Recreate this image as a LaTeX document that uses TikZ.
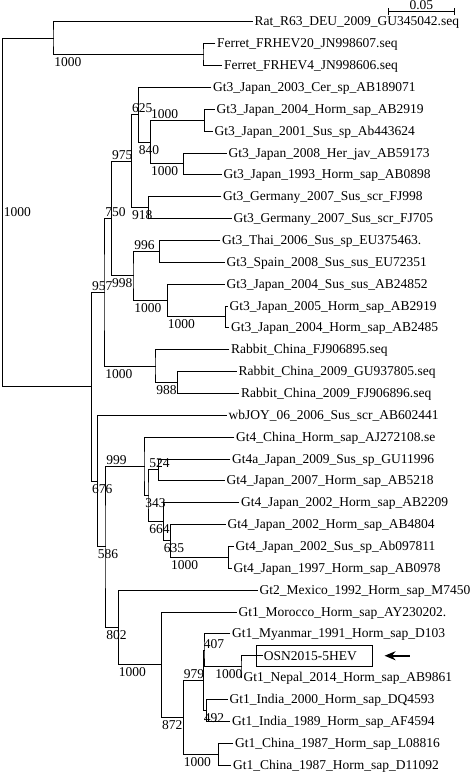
\documentclass[tikz,border=0pt]{standalone}
\usepackage{fontspec}
\setmainfont{Liberation Serif}
\usetikzlibrary{arrows.meta}

\begin{document}
\begin{tikzpicture}[x=1bp, y=-21.86bp, line width=1bp,
    every node/.style={font=\fontsize{13.5bp}{16bp}\selectfont},
    leaf/.style={anchor=west, inner xsep=1.2bp, inner ysep=0pt, text height=9.5bp, text depth=1.5bp},
    osnbox/.style={anchor=west, draw, line width=0.9bp, inner xsep=7.5bp, text width=100.7bp, align=left, minimum height=21bp},
    bsup/.style={anchor=south west, inner xsep=0pt, inner ysep=1.5bp},
    bsdown/.style={anchor=north west, inner xsep=0pt, inner ysep=2.5bp},
    bsmid/.style={anchor=west, inner sep=0.8bp}]
\useasboundingbox (0,0) rectangle (472,35.41);

% leaves
\node[leaf] (rat) at (253,1) {Rat\_R63\_DEU\_2009\_GU345042.seq};
\node[leaf] (fer20) at (215.5,2) {Ferret\_FRHEV20\_JN998607.seq};
\node[leaf] (fer4) at (222.5,3) {Ferret\_FRHEV4\_JN998606.seq};
\node[leaf] (jp03cer) at (211.5,4) {Gt3\_Japan\_2003\_Cer\_sp\_AB189071};
\node[leaf] (jp04a) at (215,5) {Gt3\_Japan\_2004\_Horm\_sap\_AB2919};
\node[leaf] (jp01sus) at (213,6) {Gt3\_Japan\_2001\_Sus\_sp\_Ab443624};
\node[leaf] (jp08her) at (227,7) {Gt3\_Japan\_2008\_Her\_jav\_AB59173};
\node[leaf] (jp93) at (222,8) {Gt3\_Japan\_1993\_Horm\_sap\_AB0898};
\node[leaf] (ger998) at (221.5,9) {Gt3\_Germany\_2007\_Sus\_scr\_FJ998};
\node[leaf] (ger705) at (232,10) {Gt3\_Germany\_2007\_Sus\_scr\_FJ705};
\node[leaf] (thai) at (220.5,11) {Gt3\_Thai\_2006\_Sus\_sp\_EU375463.};
\node[leaf] (spain) at (225,12) {Gt3\_Spain\_2008\_Sus\_sus\_EU72351};
\node[leaf] (jp04sus) at (225,13) {Gt3\_Japan\_2004\_Sus\_sus\_AB24852};
\node[leaf] (jp05) at (228,14) {Gt3\_Japan\_2005\_Horm\_sap\_AB2919};
\node[leaf] (jp04b) at (229.5,15) {Gt3\_Japan\_2004\_Horm\_sap\_AB2485};
\node[leaf] (rab895) at (229.5,16) {Rabbit\_China\_FJ906895.seq};
\node[leaf] (rab805) at (237,17) {Rabbit\_China\_2009\_GU937805.seq};
\node[leaf] (rab896) at (239.5,18) {Rabbit\_China\_2009\_FJ906896.seq};
\node[leaf] (wbjoy) at (227,19) {wbJOY\_06\_2006\_Sus\_scr\_AB602441};
\node[leaf] (gt4cn) at (234.5,20) {Gt4\_China\_Horm\_sap\_AJ272108.se};
\node[leaf] (gt4a) at (230.5,21) {Gt4a\_Japan\_2009\_Sus\_sp\_GU11996};
\node[leaf] (jp07) at (225,22) {Gt4\_Japan\_2007\_Horm\_sap\_AB5218};
\node[leaf] (jp02a) at (239.5,23) {Gt4\_Japan\_2002\_Horm\_sap\_AB2209};
\node[leaf] (jp02b) at (226,24) {Gt4\_Japan\_2002\_Horm\_sap\_AB4804};
\node[leaf] (jp02sus) at (234,25) {Gt4\_Japan\_2002\_Sus\_sp\_Ab097811};
\node[leaf] (jp97) at (232,26) {Gt4\_Japan\_1997\_Horm\_sap\_AB0978};
\node[leaf] (mex) at (258,27) {Gt2\_Mexico\_1992\_Horm\_sap\_M7450};
\node[leaf] (mor) at (237,28) {Gt1\_Morocco\_Horm\_sap\_AY230202.};
\node[leaf] (mya) at (230.5,29) {Gt1\_Myanmar\_1991\_Horm\_sap\_D103};
\node[osnbox] (osn) at (256,30) {OSN2015-5HEV};
\node[leaf] (nepal) at (242,31) {Gt1\_Nepal\_2014\_Horm\_sap\_AB9861};
\node[leaf] (ind00) at (228,32) {Gt1\_India\_2000\_Horm\_sap\_DQ4593};
\node[leaf] (ind89) at (230.5,33) {Gt1\_India\_1989\_Horm\_sap\_AF4594};
\node[leaf] (cn816) at (233.5,34) {Gt1\_China\_1987\_Horm\_sap\_L08816};
\node[leaf] (cn092) at (231.5,35) {Gt1\_China\_1987\_Horm\_sap\_D11092};

% internal nodes
\coordinate (root) at (2.7,9.72);
\coordinate (nRF) at (54,1.75);
\coordinate (nFer) at (204,2.5);
\coordinate (nHEV) at (91.7,17.69);
\coordinate (nA) at (105,13.375);
\coordinate (nGt3) at (111.7,10);
\coordinate (nG) at (131.7,7.375);
\coordinate (nC) at (138.3,5.25);
\coordinate (nD) at (150.7,6.5);
\coordinate (nE) at (204.3,5.5);
\coordinate (nF) at (183.3,7.5);
\coordinate (nGer) at (148.3,9.5);
\coordinate (nI) at (134,12.625);
\coordinate (nJ) at (159.3,11.5);
\coordinate (nK) at (167.3,13.75);
\coordinate (nL) at (225.7,14.5);
\coordinate (nRab) at (156,16.75);
\coordinate (nRab2) at (177.7,17.5);
\coordinate (nP) at (97.3,22.01);
\coordinate (nQ) at (106,25.02);
\coordinate (nR) at (145,21.34);
\coordinate (nS) at (149,22.69);
\coordinate (nT) at (158.3,21.5);
\coordinate (nU) at (163.3,23.875);
\coordinate (nV) at (170.7,24.75);
\coordinate (nW) at (228.3,25.5);
\coordinate (nX) at (118.3,28.70);
\coordinate (nY) at (161.7,30.41);
\coordinate (nZ) at (183.3,32.81);
\coordinate (nAA) at (203.3,31.125);
\coordinate (nAB) at (205,29.75);
\coordinate (nAD) at (242,30.5);
\coordinate (nAC) at (206.7,32.5);
\coordinate (nCn) at (218.3,34.5);

% branches
\draw (rat.west) -| (nRF) |- (nFer);
\draw (fer20.west) -| (nFer) |- (fer4.west);
\draw (nRF) -| (root) |- (nHEV);
\draw (jp04a.west) -| (nE) |- (jp01sus.west);
\draw (jp08her.west) -| (nF) |- (jp93.west);
\draw (nE) -| (nD) |- (nF);
\draw (jp03cer.west) -| (nC) |- (nD);
\draw (ger998.west) -| (nGer) |- (ger705.west);
\draw (nC) -| (nG) |- (nGer);
\draw (thai.west) -| (nJ) |- (spain.west);
\draw (jp05.west) -| (nL) |- (jp04b.west);
\draw (jp04sus.west) -| (nK) |- (nL);
\draw (nJ) -| (nI) |- (nK);
\draw (nG) -| (nGt3) |- (nI);
\draw (rab805.west) -| (nRab2) |- (rab896.west);
\draw (rab895.west) -| (nRab) |- (nRab2);
\draw (nGt3) -| (nA) |- (nRab);
\draw (gt4a.west) -| (nT) |- (jp07.west);
\draw (jp02sus.west) -| (nW) |- (jp97.west);
\draw (jp02b.west) -| (nV) |- (nW);
\draw (jp02a.west) -| (nU) |- (nV);
\draw (nT) -| (nS) |- (nU);
\draw (gt4cn.west) -| (nR) |- (nS);
\draw ([xshift=7bp]osn.west) -| (nAD) |- (nepal.west);
\draw (mya.west) -| (nAB) |- (nAD);
\draw (ind00.west) -| (nAC) |- (ind89.west);
\draw (nAB) -| (nAA) |- (nAC);
\draw (cn816.west) -| (nCn) |- (cn092.west);
\draw (nAA) -| (nZ) |- (nCn);
\draw (mor.west) -| (nY) |- (nZ);
\draw (mex.west) -| (nX) |- (nY);
\draw (nR) -| (nQ) |- (nX);
\draw (wbjoy.west) -| (nP) |- (nQ);
\draw (nA) -| (nHEV) |- (nP);

% bootstrap values
\node[bsmid] (bRoot) at (root) {1000};
\node[bsdown] (bFer) at (nRF |- nFer) {1000};
\node[bsup] (bC) at (nG |- nC) {625};
\node[bsdown] (bD) at (nC |- nD) {840};
\node[bsup] (bE) at (nD |- nE) {1000};
\node[bsdown] (bF) at (nD |- nF) {1000};
\node[bsup] (bG) at (nGt3 |- nG) {975};
\node[bsdown] (bGer) at (nG |- nGer) {918};
\node[bsup] (bGt3) at (nA |- nGt3) {750};
\node[bsdown] (bI) at (nGt3 |- nI) {998};
\node[bsup] (bJ) at (nI |- nJ) {996};
\node[bsdown] (bK) at (nI |- nK) {1000};
\node[bsdown] (bL) at (nK |- nL) {1000};
\node[bsdown] (bRab) at (nA |- nRab) {1000};
\node[bsdown] (bRab2) at (nRab |- nRab2) {988};
\node[bsup] (bA) at (nHEV |- nA) {957};
\node[bsdown] (bP) at (nHEV |- nP) {676};
\node[bsdown] (bQ) at (nP |- nQ) {586};
\node[bsup] (bR) at (nQ |- nR) {999};
\node[bsup] (bT) at (nS |- nT) {524};
\node[bsdown] (bS) at (nR |- nS) {343};
\node[bsdown] (bU) at (nS |- nU) {664};
\node[bsdown] (bV) at (nU |- nV) {635};
\node[bsdown] (bW) at (nV |- nW) {1000};
\node[bsdown] (bX) at (nQ |- nX) {802};
\node[bsdown] (bY) at (nX |- nY) {1000};
\node[bsdown] (bZ) at (nY |- nZ) {872};
\node[bsup] (bAA) at (nZ |- nAA) {979};
\node[bsdown] (bCn) at (nZ |- nCn) {1000};
\node[bsup] (bAB) at (nAA |- nAB) {407};
\node[bsdown, xshift=10bp] (bAD) at (nAB |- nAD) {1000};
\node[bsdown] (bAC) at (nAA |- nAC) {492};

% scale bar
\coordinate (sbL) at (387.7,0.535);
\coordinate (sbR) at (455,0.535);
\draw[{Bar[width=7bp]}-{Bar[width=7bp]}] (sbL) -- (sbR) node[midway, anchor=south, inner sep=0pt, yshift=1.6bp] (sbLabel) {0.05};

% pointer to the new strain
\coordinate (arrTail) at (410,30);
\draw[line width=1.8bp, -{Stealth[length=11bp, width=9bp]}] (arrTail) -- ([xshift=12bp]osn.east);
\end{tikzpicture}
\end{document}
